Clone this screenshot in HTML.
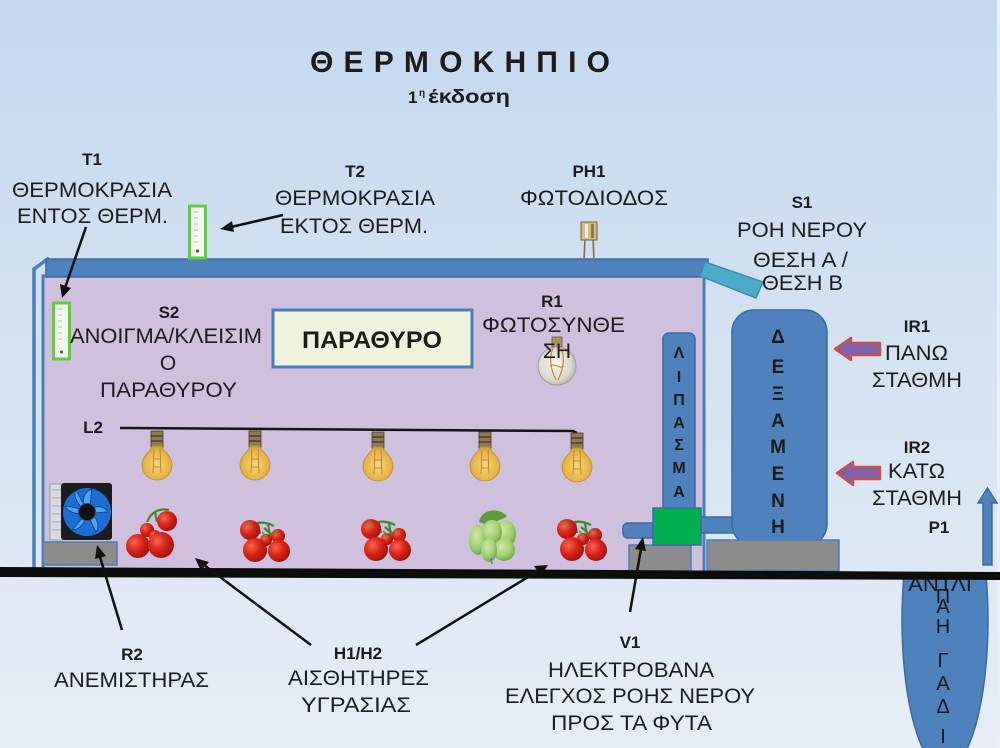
<!DOCTYPE html>
<html><head><meta charset="utf-8">
<style>
html,body{margin:0;padding:0;background:#d6e2f2;}
svg{display:block;}
text{font-family:"Liberation Sans","DejaVu Sans",sans-serif;fill:#1c1c1c;}
.b{font-weight:bold;font-size:17px;}
.n{font-size:21px;}
</style></head>
<body>
<svg width="1000" height="748" viewBox="0 0 1000 748" xmlns="http://www.w3.org/2000/svg">
<defs>
<linearGradient id="bg" x1="0" y1="0" x2="0" y2="1">
<stop offset="0" stop-color="#c5d8ee"/>
<stop offset="1" stop-color="#e6edf6"/>
</linearGradient>
<radialGradient id="tom" cx="0.35" cy="0.35" r="0.7">
<stop offset="0" stop-color="#f7664f"/>
<stop offset="0.5" stop-color="#db2519"/>
<stop offset="1" stop-color="#a3110c"/>
</radialGradient>
<radialGradient id="gtom" cx="0.4" cy="0.35" r="0.7">
<stop offset="0" stop-color="#cfe8a4"/>
<stop offset="0.6" stop-color="#a3cf72"/>
<stop offset="1" stop-color="#6fa046"/>
</radialGradient>
<radialGradient id="bulb" cx="0.5" cy="0.55" r="0.6">
<stop offset="0" stop-color="#f7d77a"/>
<stop offset="0.7" stop-color="#e6b445"/>
<stop offset="1" stop-color="#c99530"/>
</radialGradient>
<radialGradient id="globe" cx="0.45" cy="0.45" r="0.6">
<stop offset="0" stop-color="#f6f4f0"/>
<stop offset="0.7" stop-color="#dcd8d2"/>
<stop offset="1" stop-color="#b3aea6"/>
</radialGradient>
<clipPath id="below"><rect x="0" y="574" width="1000" height="200"/></clipPath>
<g id="bulbG">
<rect x="-6" y="2" width="12" height="16" fill="#8c7b56" stroke="#4a3e26" stroke-width="0.8"/>
<line x1="-6" y1="7" x2="6" y2="7" stroke="#3c3220" stroke-width="1.2"/>
<line x1="-6" y1="12" x2="6" y2="12" stroke="#3c3220" stroke-width="1.2"/>
<path d="M -5 17 C -5 22, -15 26, -15 36 A 15 15 0 0 0 15 36 C 15 26, 5 22, 5 17 Z" fill="url(#bulb)" stroke="#c0902c" stroke-width="0.8"/>
<path d="M -3 20 L -4 44 M 3 20 L 4 44 M -4 30 L 4 30 M -4 38 L 4 38" stroke="#b47c24" stroke-width="0.8" fill="none"/>
</g>
<g id="cl">
<path d="M 8 14 C 14 4, 24 2, 36 8 M 20 6 L 22 16 M 30 6 L 32 18 M 26 10 L 40 22" stroke="#3f8a2e" stroke-width="2.2" fill="none"/>
<circle cx="12" cy="12" r="10" fill="url(#tom)"/>
<circle cx="40" cy="18" r="7" fill="url(#tom)"/>
<circle cx="28" cy="22" r="6" fill="url(#tom)"/>
<circle cx="17" cy="32" r="12" fill="url(#tom)"/>
<circle cx="41" cy="33" r="11" fill="url(#tom)"/>
<path d="M 10 4 L 14 10 M 24 14 L 30 20 M 36 12 L 40 16" stroke="#4d9a34" stroke-width="1.5"/>
</g>
</defs>

<!-- background -->
<rect x="0" y="0" width="1000" height="748" fill="url(#bg)"/>
<rect x="997" y="0" width="3" height="748" fill="#e9eef7"/>

<!-- Title -->
<text x="310" y="72" font-size="30" font-weight="bold" textLength="300" lengthAdjust="spacing">ΘΕΡΜΟΚΗΠΙΟ</text>
<text x="408" y="103" font-size="17" font-weight="bold">1</text>
<text x="419" y="96" font-size="10" font-weight="bold">η</text>
<text x="428" y="103" font-size="19" font-weight="bold" textLength="82" lengthAdjust="spacingAndGlyphs">έκδοση</text>

<!-- Greenhouse body -->
<rect x="43" y="276" width="661" height="296" fill="#cfc1dd" stroke="#4a7ebb" stroke-width="3"/>
<path d="M 34 572 L 34 269 L 49 258" fill="none" stroke="#4a7ebb" stroke-width="3.5"/>
<rect x="46" y="259" width="662" height="18" fill="#4f81bd" stroke="#3a6aa5" stroke-width="1.5"/>
<polygon points="705,262 763,282 756,298 700,276" fill="#4bacc6" stroke="#3a8cb0" stroke-width="1.5"/>

<!-- Thermometers -->
<g>
<rect x="189.5" y="206" width="16" height="52" fill="#f3f7ef" stroke="#5fcf39" stroke-width="3"/>
<path d="M 194 212 h4 M 194 218 h4 M 194 224 h4 M 194 230 h4 M 194 236 h4 M 194 242 h4" stroke="#b8bcb8" stroke-width="1"/>
<circle cx="197.5" cy="251" r="1.6" fill="#555"/>
</g>
<g>
<rect x="53.5" y="303" width="16" height="56" fill="#f3f7ef" stroke="#5fcf39" stroke-width="3"/>
<path d="M 58 309 h4 M 58 315 h4 M 58 321 h4 M 58 327 h4 M 58 333 h4 M 58 339 h4" stroke="#b8bcb8" stroke-width="1"/>
<circle cx="61.5" cy="352" r="1.6" fill="#555"/>
</g>

<!-- Photodiode -->
<line x1="585" y1="238" x2="584" y2="260" stroke="#7e7258" stroke-width="1.6"/>
<line x1="593" y1="238" x2="594" y2="260" stroke="#7e7258" stroke-width="1.6"/>
<rect x="581" y="222" width="16" height="18" fill="#d4bd86" stroke="#6f6040" stroke-width="1"/>
<rect x="585" y="224" width="3" height="14" fill="#f3ecd8"/>
<rect x="591" y="224" width="3" height="14" fill="#8d7a4e"/>

<!-- PARATHYRO box -->
<rect x="273" y="310" width="199" height="57" fill="#eef3dd" stroke="#4a7ebb" stroke-width="3"/>
<text x="302" y="348" font-size="24" font-weight="bold" textLength="140" lengthAdjust="spacingAndGlyphs">ΠΑΡΑΘΥΡΟ</text>

<!-- R1 globe bulb -->
<rect x="552" y="337" width="10" height="10" fill="#a8925e" stroke="#6b5a36" stroke-width="0.8"/>
<circle cx="557" cy="366" r="19" fill="url(#globe)" stroke="#a29c93" stroke-width="1"/>
<path d="M 553 348 C 548 360, 552 372, 556 380 M 561 348 C 566 360, 562 372, 558 380 M 550 366 C 554 362, 560 370, 564 366" stroke="#cf8a2c" stroke-width="1.2" fill="none"/>

<!-- L2 wire and bulbs -->
<path d="M 120 428 L 573 431 L 577 433" stroke="#151515" stroke-width="2.5" fill="none"/>
<use href="#bulbG" x="157" y="429"/>
<use href="#bulbG" x="255" y="429"/>
<use href="#bulbG" x="378" y="430"/>
<use href="#bulbG" x="485" y="430"/>
<use href="#bulbG" x="577" y="431"/>

<!-- Fan -->
<rect x="50" y="484" width="13" height="56" fill="#d9dbe0" stroke="#9a9ea6" stroke-width="1"/>
<path d="M 52 490 h9 M 52 498 h9 M 52 506 h9 M 52 514 h9 M 52 522 h9 M 52 530 h9" stroke="#a6aab2" stroke-width="1"/>
<rect x="61" y="483" width="51" height="57" rx="3" fill="#1c1c1e"/>
<circle cx="87" cy="512" r="24" fill="#1a6fd6"/>
<g fill="#46a6ff" stroke="#0d3f85" stroke-width="0.8">
<path d="M 87 512 C 80 500, 84 492, 92 489 C 90 498, 92 504, 87 512 Z"/>
<path d="M 87 512 C 96 504, 104 506, 108 512 C 100 512, 94 514, 87 512 Z"/>
<path d="M 87 512 C 98 516, 100 526, 96 532 C 92 524, 90 520, 87 512 Z"/>
<path d="M 87 512 C 86 522, 80 530, 72 530 C 78 524, 82 518, 87 512 Z"/>
<path d="M 87 512 C 78 516, 68 512, 65 506 C 72 507, 80 508, 87 512 Z"/>
<path d="M 87 512 C 80 508, 72 496, 76 490 C 80 498, 84 504, 87 512 Z"/>
</g>
<circle cx="87" cy="512" r="8.5" fill="#121212" stroke="#444" stroke-width="1"/>
<rect x="43" y="542" width="74" height="23" fill="#8c8c8c" stroke="#4a7ebb" stroke-width="1.5"/>

<!-- Tomatoes -->
<g transform="translate(125,508)">
<path d="M 22 14 C 26 4, 34 0, 44 2 M 30 4 L 32 14 M 38 4 L 40 12" stroke="#3f8a2e" stroke-width="2.2" fill="none"/>
<circle cx="42" cy="13" r="10" fill="url(#tom)"/>
<circle cx="22" cy="22" r="7" fill="url(#tom)"/>
<circle cx="30" cy="28" r="6" fill="url(#tom)"/>
<circle cx="13" cy="38" r="12" fill="url(#tom)"/>
<circle cx="36" cy="37" r="13" fill="url(#tom)"/>
</g>
<g transform="translate(238,518)"><use href="#cl"/></g>
<g transform="translate(359,517)"><use href="#cl"/></g>
<g transform="translate(555,517)"><use href="#cl"/></g>
<!-- green tomatoes -->
<g transform="translate(467,508)">
<path d="M 12 14 C 14 2, 30 -2, 40 8 C 36 12, 28 12, 24 18 Z" fill="#5c9c3b"/>
<ellipse cx="38" cy="26" rx="11" ry="14" fill="url(#gtom)"/>
<ellipse cx="11" cy="32" rx="9" ry="15" fill="url(#gtom)"/>
<ellipse cx="25" cy="24" rx="10" ry="12" fill="url(#gtom)"/>
<ellipse cx="37" cy="42" rx="11" ry="11" fill="url(#gtom)"/>
<ellipse cx="22" cy="42" rx="8" ry="12" fill="url(#gtom)"/>
<path d="M 24 50 L 25 56" stroke="#4c7fa8" stroke-width="1.5"/>
</g>

<!-- Lipasma column -->
<rect x="663" y="333" width="32" height="180" rx="6" fill="#4f81bd" stroke="#3a6aa5" stroke-width="1.5"/>
<g font-size="16" font-weight="bold" text-anchor="middle">
<text x="679" y="358">Λ</text>
<text x="679" y="382">Ι</text>
<text x="679" y="405">Π</text>
<text x="679" y="428">Α</text>
<text x="679" y="450">Σ</text>
<text x="679" y="473">Μ</text>
<text x="679" y="497">Α</text>
</g>

<!-- Pipes, valve, bases -->
<rect x="700" y="517" width="36" height="16" rx="3" fill="#4f81bd" stroke="#3a6aa5" stroke-width="1.5"/>
<rect x="623" y="523" width="33" height="15" rx="5" fill="#4f81bd" stroke="#3a6aa5" stroke-width="1.5"/>
<rect x="629" y="545" width="62" height="28" fill="#8c8c8c" stroke="#4a7ebb" stroke-width="1.5"/>
<rect x="653" y="508" width="48" height="37" fill="#00b050" stroke="#3a6aa5" stroke-width="1.5"/>

<!-- Tank -->
<rect x="732" y="310" width="95" height="236" rx="22" fill="#4f81bd" stroke="#3a6aa5" stroke-width="1.5"/>
<g font-size="19" font-weight="bold" text-anchor="middle">
<text x="778" y="343">Δ</text>
<text x="778" y="373">Ε</text>
<text x="778" y="400">Ξ</text>
<text x="778" y="427">Α</text>
<text x="778" y="453">Μ</text>
<text x="778" y="480">Ε</text>
<text x="778" y="507">Ν</text>
<text x="778" y="533">Η</text>
</g>
<rect x="707" y="540" width="132" height="31" fill="#8c8c8c" stroke="#4a7ebb" stroke-width="1.5"/>

<!-- IR arrows -->
<polygon points="835,349 851,338 851,343 880,343 880,355 851,355 851,360" fill="#7f62a8" stroke="#c8504d" stroke-width="2.5" stroke-linejoin="round"/>
<polygon points="837,473 853,462 853,467 880,467 880,479 853,479 853,485" fill="#7f62a8" stroke="#c8504d" stroke-width="2.5" stroke-linejoin="round"/>

<!-- P1 arrow -->
<polygon points="987.5,488 997,503 992,503 992,565 983,565 983,503 978,503" fill="#4f81bd" stroke="#3a6aa5" stroke-width="1.5"/>

<!-- Well -->
<ellipse cx="945" cy="620" rx="43" ry="150" fill="#4f81bd" stroke="#3a6aa5" stroke-width="1.5" clip-path="url(#below)"/>
<g font-size="20" text-anchor="middle" fill="#1c1c1c">
<text x="940" y="591" textLength="64" lengthAdjust="spacingAndGlyphs">ΑΝΤΛΙ</text>
<text x="943" y="603">Π</text>
<text x="943" y="613">Α</text>
<text x="943" y="633">Η</text>
<text x="943" y="667">Γ</text>
<text x="943" y="690">Α</text>
<text x="943" y="713">Δ</text>
<text x="943" y="743">Ι</text>
</g>

<!-- Ground -->
<polygon points="0,567 1000,572 1000,580 0,577" fill="#0d0d0d"/>

<!-- Arrows -->
<g stroke="#111" stroke-width="2.5" fill="none">
<line x1="86" y1="227" x2="65" y2="288"/>
<line x1="283" y1="215" x2="231" y2="227"/>
<line x1="122" y1="630" x2="100" y2="557"/>
<line x1="311" y1="645" x2="204" y2="565"/>
<line x1="416" y1="645" x2="538" y2="571"/>
<line x1="630" y1="612" x2="641" y2="549"/>
</g>
<g fill="#111">
<polygon points="62,298 60,284 71,288"/>
<polygon points="220,229 232,221 234,232"/>
<polygon points="97,545 95,559 106,556"/>
<polygon points="195,558 201,571 209,562"/>
<polygon points="548,565 534,566 541,576"/>
<polygon points="643,537 635,549 646,551"/>
</g>

<!-- Bold IDs -->
<g class="b" text-anchor="middle">
<text x="92" y="165">T1</text>
<text x="355" y="177">T2</text>
<text x="589" y="177">PH1</text>
<text x="802" y="208">S1</text>
<text x="169" y="318">S2</text>
<text x="552" y="307">R1</text>
<text x="917" y="332">IR1</text>
<text x="917" y="453">IR2</text>
<text x="939" y="533">P1</text>
<text x="93" y="433">L2</text>
<text x="132" y="660">R2</text>
<text x="358" y="659">H1/H2</text>
<text x="630" y="648">V1</text>
</g>

<!-- Normal labels -->
<g class="n">
<text x="12" y="197" textLength="160" lengthAdjust="spacingAndGlyphs">ΘΕΡΜΟΚΡΑΣΙΑ</text>
<text x="17" y="223" textLength="151" lengthAdjust="spacingAndGlyphs">ΕΝΤΟΣ ΘΕΡΜ.</text>
<text x="275" y="205" textLength="160" lengthAdjust="spacingAndGlyphs">ΘΕΡΜΟΚΡΑΣΙΑ</text>
<text x="280" y="233" textLength="148" lengthAdjust="spacingAndGlyphs">ΕΚΤΟΣ ΘΕΡΜ.</text>
<text x="520" y="205" textLength="148" lengthAdjust="spacingAndGlyphs">ΦΩΤΟΔΙΟΔΟΣ</text>
<text x="737" y="237" textLength="130" lengthAdjust="spacingAndGlyphs">ΡΟΗ ΝΕΡΟΥ</text>
<text x="753" y="267" textLength="95" lengthAdjust="spacingAndGlyphs">ΘΕΣΗ Α /</text>
<text x="762" y="290" textLength="81" lengthAdjust="spacingAndGlyphs">ΘΕΣΗ Β</text>
<text x="70" y="343" textLength="192" lengthAdjust="spacingAndGlyphs">ΑΝΟΙΓΜΑ/ΚΛΕΙΣΙΜ</text>
<text x="168" y="370" text-anchor="middle">Ο</text>
<text x="100" y="397" textLength="137" lengthAdjust="spacingAndGlyphs">ΠΑΡΑΘΥΡΟΥ</text>
<text x="482" y="332" textLength="143" lengthAdjust="spacingAndGlyphs">ΦΩΤΟΣΥΝΘΕ</text>
<text x="557" y="358" text-anchor="middle">ΣΗ</text>
<text x="885" y="360" textLength="63" lengthAdjust="spacingAndGlyphs">ΠΑΝΩ</text>
<text x="872" y="387" textLength="90" lengthAdjust="spacingAndGlyphs">ΣΤΑΘΜΗ</text>
<text x="888" y="478" textLength="57" lengthAdjust="spacingAndGlyphs">ΚΑΤΩ</text>
<text x="872" y="505" textLength="90" lengthAdjust="spacingAndGlyphs">ΣΤΑΘΜΗ</text>
<text x="54" y="687" textLength="155" lengthAdjust="spacingAndGlyphs">ΑΝΕΜΙΣΤΗΡΑΣ</text>
<text x="288" y="685" textLength="141" lengthAdjust="spacingAndGlyphs">ΑΙΣΘΗΤΗΡΕΣ</text>
<text x="301" y="712" textLength="110" lengthAdjust="spacingAndGlyphs">ΥΓΡΑΣΙΑΣ</text>
<text x="548" y="677" textLength="166" lengthAdjust="spacingAndGlyphs">ΗΛΕΚΤΡΟΒΑΝΑ</text>
<text x="505" y="703" textLength="250" lengthAdjust="spacingAndGlyphs">ΕΛΕΓΧΟΣ ΡΟΗΣ ΝΕΡΟΥ</text>
<text x="551" y="730" textLength="161" lengthAdjust="spacingAndGlyphs">ΠΡΟΣ ΤΑ ΦΥΤΑ</text>
</g>
</svg>
</body></html>
